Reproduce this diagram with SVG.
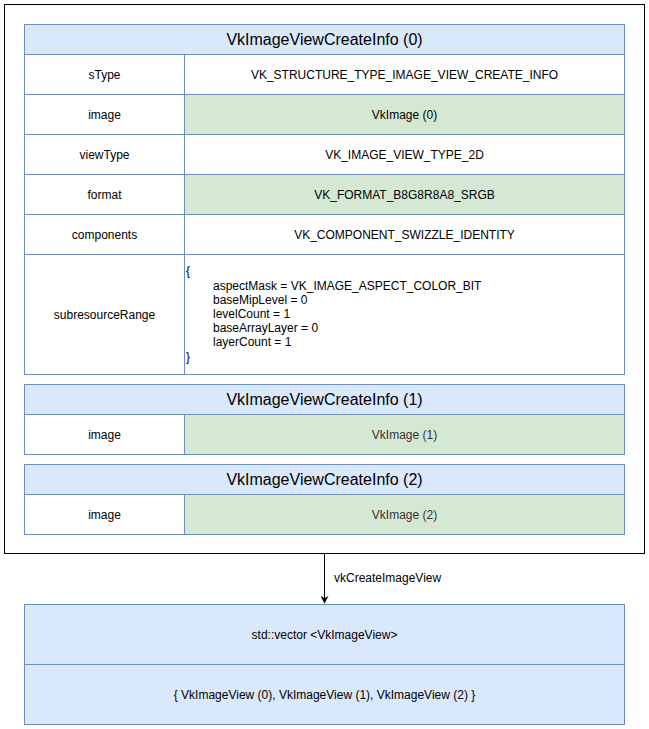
<svg xmlns="http://www.w3.org/2000/svg" width="649" height="729" viewBox="0 0 649 729">
  <style>
    .hdr { fill: #dae8fc; stroke: #6c8ebf; stroke-width: 1; }
    .cell { fill: #ffffff; stroke: #6c8ebf; stroke-width: 1; }
    .grn { fill: #d5e8d4; stroke: #6c8ebf; stroke-width: 1; }
    .blue { fill: #dae8fc; stroke: #6c8ebf; stroke-width: 1; }
    text { font-family: "Liberation Sans", Arial, Helvetica, sans-serif; fill: #000; }
    .t16 { font-size: 16px; text-anchor: middle; }
    .t12 { font-size: 12px; text-anchor: middle; }
    .t12l { font-size: 12px; }
    .dim { fill: #333333; }
  </style>
  <defs>
    <marker id="arrow" viewBox="0 0 10 10" refX="9" refY="5" markerWidth="8" markerHeight="8" markerUnits="userSpaceOnUse" orient="auto">
      <path d="M0,0 L10,5 L0,10 L3,5 Z" fill="#000"/>
    </marker>
  </defs>

  <!-- container -->
  <g id="container">
    <rect x="4.5" y="4.5" width="640" height="549" fill="#ffffff" stroke="#000" stroke-width="1"/>
  </g>

  <!-- VkImageViewCreateInfo (0) -->
  <g id="info0">
    <rect class="hdr" x="24.5" y="24.5" width="600" height="30"/>
    <text class="t16" x="324.5" y="45">VkImageViewCreateInfo (0)</text>

    <rect class="cell" x="24.5" y="54.5" width="160" height="40"/>
    <rect class="cell" x="184.5" y="54.5" width="440" height="40"/>
    <text class="t12" x="104.5" y="79">sType</text>
    <text class="t12" x="404.5" y="79">VK_STRUCTURE_TYPE_IMAGE_VIEW_CREATE_INFO</text>

    <rect class="cell" x="24.5" y="94.5" width="160" height="40"/>
    <rect class="grn" x="184.5" y="94.5" width="440" height="40"/>
    <text class="t12" x="104.5" y="119">image</text>
    <text class="t12" x="404.5" y="119">VkImage (0)</text>

    <rect class="cell" x="24.5" y="134.5" width="160" height="40"/>
    <rect class="cell" x="184.5" y="134.5" width="440" height="40"/>
    <text class="t12" x="104.5" y="159">viewType</text>
    <text class="t12" x="404.5" y="159">VK_IMAGE_VIEW_TYPE_2D</text>

    <rect class="cell" x="24.5" y="174.5" width="160" height="40"/>
    <rect class="grn" x="184.5" y="174.5" width="440" height="40"/>
    <text class="t12" x="104.5" y="199">format</text>
    <text class="t12" x="404.5" y="199">VK_FORMAT_B8G8R8A8_SRGB</text>

    <rect class="cell" x="24.5" y="214.5" width="160" height="40"/>
    <rect class="cell" x="184.5" y="214.5" width="440" height="40"/>
    <text class="t12" x="104.5" y="239">components</text>
    <text class="t12" x="404.5" y="239">VK_COMPONENT_SWIZZLE_IDENTITY</text>

    <rect class="cell" x="24.5" y="254.5" width="160" height="120"/>
    <rect class="cell" x="184.5" y="254.5" width="440" height="120"/>
    <text class="t12" x="104.5" y="319">subresourceRange</text>
    <text class="t12l" x="186" y="275">{</text>
    <text class="t12l" x="213" y="290">aspectMask = VK_IMAGE_ASPECT_COLOR_BIT</text>
    <text class="t12l" x="213" y="304">baseMipLevel = 0</text>
    <text class="t12l" x="213" y="318">levelCount = 1</text>
    <text class="t12l" x="213" y="332">baseArrayLayer = 0</text>
    <text class="t12l" x="213" y="346">layerCount = 1</text>
    <text class="t12l" x="186" y="361">}</text>
  </g>

  <!-- VkImageViewCreateInfo (1) -->
  <g id="info1">
    <rect class="hdr" x="24.5" y="384.5" width="600" height="30"/>
    <text class="t16" x="324.5" y="405">VkImageViewCreateInfo (1)</text>
    <rect class="cell" x="24.5" y="414.5" width="160" height="40"/>
    <rect class="grn" x="184.5" y="414.5" width="440" height="40"/>
    <text class="t12" x="104.5" y="439">image</text>
    <text class="t12 dim" x="404.5" y="439">VkImage (1)</text>
  </g>

  <!-- VkImageViewCreateInfo (2) -->
  <g id="info2">
    <rect class="hdr" x="24.5" y="464.5" width="600" height="30"/>
    <text class="t16" x="324.5" y="485">VkImageViewCreateInfo (2)</text>
    <rect class="cell" x="24.5" y="494.5" width="160" height="40"/>
    <rect class="grn" x="184.5" y="494.5" width="440" height="40"/>
    <text class="t12" x="104.5" y="519">image</text>
    <text class="t12 dim" x="404.5" y="519">VkImage (2)</text>
  </g>

  <!-- connectors -->
  <g id="connectors">
    <line x1="324.5" y1="554" x2="324.5" y2="603" stroke="#000" stroke-width="1" marker-end="url(#arrow)"/>
    <text class="t12l" x="334" y="582">vkCreateImageView</text>
  </g>

  <!-- std::vector result -->
  <g id="result">
    <rect class="blue" x="24.5" y="604.5" width="600" height="60"/>
    <rect class="blue" x="24.5" y="664.5" width="600" height="60"/>
    <text class="t12" x="324.5" y="639">std::vector &lt;VkImageView&gt;</text>
    <text class="t12" x="324.5" y="699">{ VkImageView (0), VkImageView (1), VkImageView (2) }</text>
  </g>
</svg>
